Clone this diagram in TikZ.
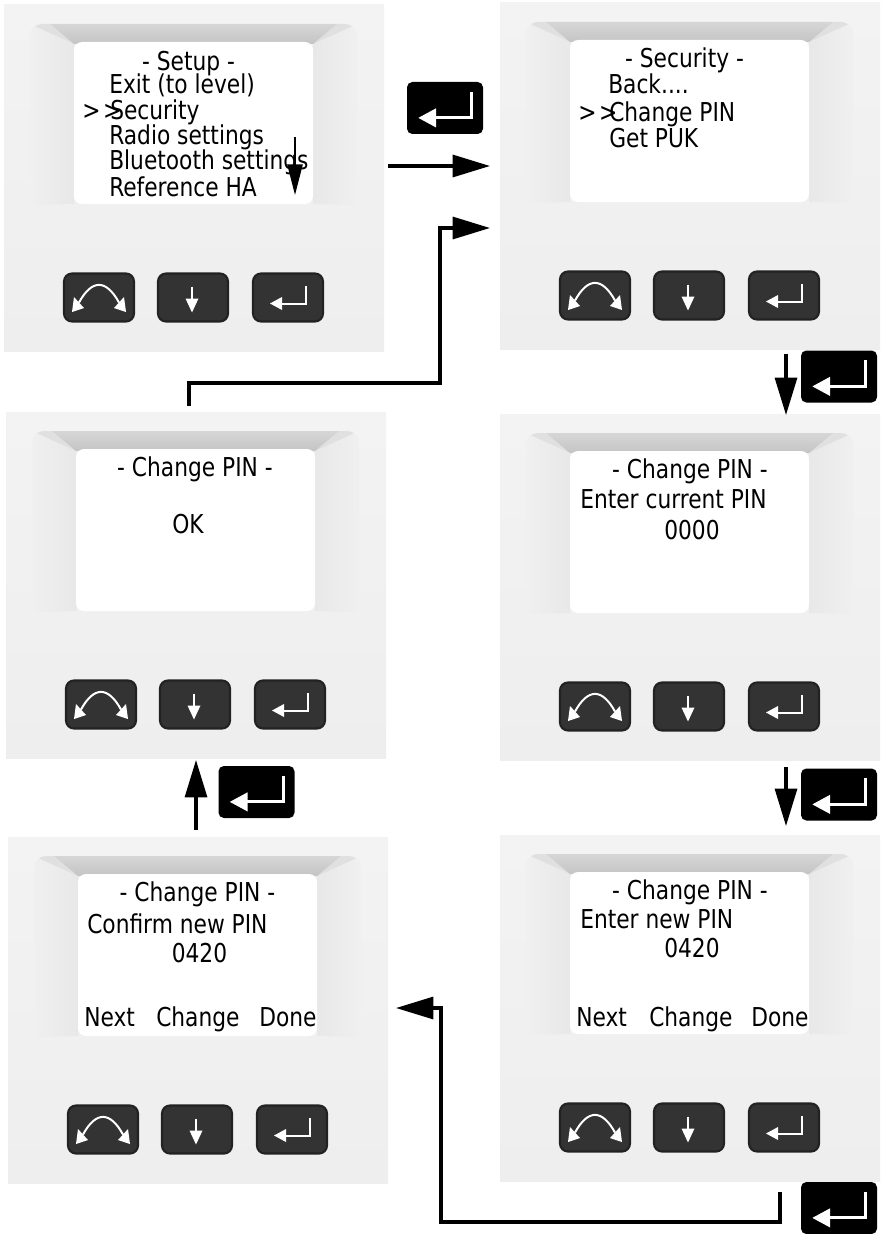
\documentclass[tikz,border=0pt]{standalone}
\usepackage{fontspec}
\setmainfont[FakeStretch=0.93]{DejaVu Sans Condensed}
\usetikzlibrary{arrows.meta}
\definecolor{paneltop}{HTML}{F3F3F3}
\definecolor{panelbot}{HTML}{EEEEEE}
\definecolor{btnout}{HTML}{222222}
\definecolor{btnin}{HTML}{333333}
\tikzset{
  x=0.75pt,y=-0.75pt,
  panelbg/.style={top color=paneltop,bottom color=panelbot,draw=none,minimum width=285pt,minimum height=259.5pt,inner sep=0pt},
  lcdscreen/.style={fill=white,draw=none,minimum width=179.25pt,minimum height=121.5pt,inner sep=0pt,rounded corners=6pt},
  btnbox/.style={fill=btnin,draw=btnout,line width=1.6pt,minimum width=52.5pt,minimum height=36pt,inner sep=0pt,rounded corners=6pt},
  enterkey/.style={fill=black,draw=none,minimum width=57pt,minimum height=39pt,inner sep=0pt,rounded corners=4pt},
  lcd/.style={anchor=base west,inner sep=0pt,font=\fontsize{19.5}{19.5}\selectfont,text=black},
  lcdc/.style={anchor=base,inner sep=0pt,font=\fontsize{19.5}{19.5}\selectfont,text=black},
  flow/.style={draw=black,line width=2.3pt,-{Triangle[length=28pt,width=16.5pt]}},
  icon/.style={draw=white,line width=1.5pt},
  iconfill/.style={fill=white,draw=none},
}
\newcommand{\enterglyph}[3]{% centre x, y, scale
  \begin{scope}[shift={(#1,#2)},scale=#3]
    \draw[draw=white,line width=#3*1.5pt] (18,-11.5) -- (18,6) -- (-8,6);
    \fill[white] (-18,6) -- (-6,-0.5) -- (-6,12.5) -- cycle;
  \end{scope}}
\newcommand{\panelbody}[3]{% name, dx, dy
  \begin{scope}[shift={(#2,#3)}]
    \node[panelbg] (#1) at (194,178) {};
    \begin{scope}
      \clip[rounded corners=9pt] (30,24) rectangle (357,215);
      \fill[black!6] (30,24) rectangle (357,215);
      \shade[left color=black!6,right color=black!9,draw=none] (30,24) -- (74,44) -- (74,204) -- (30,205) -- cycle;
      \shade[left color=black!9,right color=black!6,draw=none] (313,44) -- (357,24) -- (357,205) -- (313,204) -- cycle;
      \fill[black!12] (30,24) -- (50,24) -- (74,44) -- cycle;
      \fill[black!12] (357,24) -- (337,24) -- (313,44) -- cycle;
      \shade[top color=black!16,bottom color=black!23,draw=none] (50,24) -- (337,24) -- (313,44) -- (74,44) -- cycle;
    \end{scope}
    \node[lcdscreen] (#1s) at (193.5,123) {};
    \node[btnbox] (#1a) at (99,297.5) {};
    \node[btnbox] (#1b) at (193,297.5) {};
    \node[btnbox] (#1c) at (288,297.5) {};
    \draw[icon] (79,302.5) .. controls (92,279) and (106,279) .. (119,302.5);
    \fill[iconfill] (72,312) -- (84,308) -- (74,297) -- cycle;
    \fill[iconfill] (126,312) -- (114,308) -- (124,297) -- cycle;
    \draw[icon] (192,286.5) -- (192,300);
    \fill[iconfill] (192,312.5) -- (185.5,298.5) -- (198.5,298.5) -- cycle;
    \enterglyph{288}{297.5}{1}
  \end{scope}}
\newcommand{\blackkey}[3]{%
  \node[enterkey] (#1) at (#2,#3) {};
  \enterglyph{#2}{#3+1}{1.48}}
\begin{document}
\begin{tikzpicture}
\useasboundingbox (0,0) rectangle (884,1234);
\fill[white] (0,0) rectangle (884,1234);
\panelbody{pa}{0}{0}
\panelbody{pb}{496}{-2}
\panelbody{pc}{2}{407}
\panelbody{pd}{496}{409}
\panelbody{pe}{4}{832}
\panelbody{pf}{496}{830}

% Setup
\node[lcdc] (ta0) at (188.5,71) {- Setup -};
\node[lcd] (ta1) at (109,94) {Exit (to level)};
\node[lcd] (ta2) at (82,120) {>\kern2pt>};
\node[lcd] (ta3) at (110,120) {Security};
\node[lcd] (ta4) at (109,145) {Radio settings};
\node[lcd] (ta5) at (109,170) {Bluetooth settings};
\node[lcd] (ta6) at (109,196) {Reference HA};
\coordinate (sa) at (295,137);
\coordinate (sb) at (295,195);
\draw[draw=black,line width=1.2pt,-{Triangle[length=23pt,width=11.5pt]}] (sa) -- (sb);

% Security
\node[lcdc] (tb0) at (684.5,68) {- Security -};
\node[lcd] (tb1) at (608,94) {Back....};
\node[lcd] (tb2) at (578,122) {>\kern2pt>};
\node[lcd] (tb3) at (609,122) {Change PIN};
\node[lcd] (tb4) at (609,148) {Get PUK};

% OK
\node[lcdc] (tc0) at (195,476) {- Change PIN -};
\node[lcdc] (tc1) at (188,533) {OK};

% Enter current
\node[lcdc] (td0) at (690,478) {- Change PIN -};
\node[lcd] (td1) at (580,508) {Enter current PIN};
\node[lcdc] (td2) at (692,539) {0000};

% Confirm
\node[lcdc] (te0) at (197.5,901) {- Change PIN -};
\node[lcd] (te1) at (87,933) {Confirm new PIN};
\node[lcdc] (te2) at (199.5,962) {0420};
\node[lcd] (te3) at (84,1026) {Next};
\node[lcd] (te4) at (156,1026) {Change};
\node[lcd] (te5) at (259,1026) {Done};

% Enter new
\node[lcdc] (tf0) at (690,899) {- Change PIN -};
\node[lcd] (tf1) at (580,928) {Enter new PIN};
\node[lcdc] (tf2) at (692,957) {0420};
\node[lcd] (tf3) at (576,1026) {Next};
\node[lcd] (tf4) at (649,1026) {Change};
\node[lcd] (tf5) at (751,1026) {Done};

% enter keys
\blackkey{ka}{445}{108}
\blackkey{kb}{839}{376.5}
\blackkey{kc}{839}{794.5}
\blackkey{kd}{256.5}{792}
\blackkey{ke}{839}{1208}

% connectors
\coordinate (a1) at (388,166); \coordinate (a2) at (490,166);
\draw[flow] (a1) -- (a2);
\coordinate (b1) at (189,406); \coordinate (b2) at (189,383); \coordinate (b3) at (440,383); \coordinate (b4) at (440,228); \coordinate (b5) at (490,228);
\draw[flow] (b1) -- (b2) -- (b3) -- (b4) -- (b5);
\coordinate (c1) at (786,354); \coordinate (c2) at (786,415);
\draw[flow] (c1) -- (c2);
\coordinate (d1) at (786,767); \coordinate (d2) at (786,826);
\draw[flow] (d1) -- (d2);
\coordinate (e1) at (196,830); \coordinate (e2) at (196,760);
\draw[flow] (e1) -- (e2);
\coordinate (f1) at (780,1192); \coordinate (f2) at (780,1222); \coordinate (f3) at (441,1222); \coordinate (f4) at (441,1008); \coordinate (f5) at (396,1008);
\draw[flow] (f1) -- (f2) -- (f3) -- (f4) -- (f5);
\end{tikzpicture}
\end{document}
